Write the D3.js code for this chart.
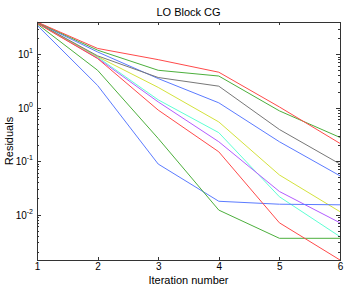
<!DOCTYPE html>
<html>
<head>
<meta charset="utf-8">
<script src="https://cdn.jsdelivr.net/npm/d3@7"></script>
<style>
  body { margin: 0; background: #fff; }
  text { font-family: "Liberation Sans", Arial, sans-serif; fill: #000; }
  .axis path, .axis line { stroke: #333; shape-rendering: crispEdges; }
</style>
</head>
<body>
<div id="holder"></div>
<script>
const w = 346;
const h = 287;
const margin = { top: 22, right: 6, bottom: 27, left: 37 };

// DATA
const iterations = [1, 2, 3, 4, 5, 6];
const blue1    = [39,   11.0, 3.5,   1.23,   0.23,   0.053];
const green1   = [39.5, 11.9, 5.0,   3.9,    0.87,   0.277];
const red1     = [40,   12.8, 7.9,   4.6,    1.03,   0.214];
const cyan     = [38.5, 8.8,  1.40,  0.34,   0.0215, 0.00385];
const magenta  = [38.5, 8.4,  1.28,  0.23,   0.027,  0.0070];
const yellow   = [38.5, 9.0,  2.39,  0.54,   0.055,  0.0113];
const gray     = [39,   9.3,  3.66,  2.52,   0.39,   0.088];
const blue2    = [35,   2.6,  0.088, 0.0177, 0.0156, 0.0152];
const green2   = [37,   5.0,  0.265, 0.0121, 0.00359, 0.00359];
const red2     = [38,   8.3,  0.90,  0.149,  0.0070, 0.00141];

const seriesList = [blue1, green1, red1, cyan, magenta, yellow, gray, blue2, green2, red2];
const colors = ["#5b7bff", "#4caf3c", "#ff4a4a", "#5effd4", "#b35cff", "#d4e23c", "#777777",
                "#5b7bff", "#4caf3c", "#ff4a4a"];

const yMajor = [0.01, 0.1, 1, 10];

// CREATE SVG
const svg = d3.select("#holder")
    .append("svg")
    .attr("width", w)
    .attr("height", h);

const allVals = seriesList.flat();
const x = d3.scaleLinear()
    .domain([1, 6])
    .range([margin.left, w - margin.right]);
const y = d3.scaleLog()
    .domain(d3.extent(allVals))
    .range([h - margin.bottom, margin.top]);

// minor ticks for log axis
const yMinor = [];
[0.001, 0.01, 0.1, 1, 10].forEach(function (d) {
    for (let k = 2; k <= 9; k++) {
        const v = d * k;
        if (v >= y.domain()[0] && v <= y.domain()[1]) yMinor.push(v);
    }
});

// LINES
const line = d3.line()
    .x(function (d, i) { return x(iterations[i]); })
    .y(function (d) { return y(d); });

svg.append("g")
    .selectAll("path")
    .data(seriesList)
    .enter()
    .append("path")
    .attr("d", line)
    .attr("fill", "none")
    .attr("stroke", function (d, i) { return colors[i]; })
    .attr("stroke-width", 1);

// AXES (ticks inside, MATLAB style)
const bottom = h - margin.bottom;
const right = w - margin.right;

svg.append("g").attr("class", "axis")
    .attr("transform", "translate(0," + bottom + ")")
    .call(d3.axisBottom(x).tickValues(iterations).tickSize(-3).tickPadding(3)
        .tickFormat(d3.format("d")))
    .call(g => g.selectAll("text").attr("font-size", 10).style("font-family", "Liberation Sans, Arial, sans-serif"));

svg.append("g").attr("class", "axis")
    .attr("transform", "translate(0," + margin.top + ")")
    .call(d3.axisTop(x).tickValues(iterations).tickSize(-3).tickFormat(""));

svg.append("g").attr("class", "axis")
    .attr("transform", "translate(" + margin.left + ",0)")
    .call(d3.axisLeft(y).tickValues(yMajor).tickSize(-4).tickFormat(""));
svg.append("g").attr("class", "axis")
    .attr("transform", "translate(" + margin.left + ",0)")
    .call(d3.axisLeft(y).tickValues(yMinor).tickSize(-2).tickFormat(""))
    .call(g => g.select(".domain").remove());

svg.append("g").attr("class", "axis")
    .attr("transform", "translate(" + right + ",0)")
    .call(d3.axisRight(y).tickValues(yMajor).tickSize(-4).tickFormat(""));
svg.append("g").attr("class", "axis")
    .attr("transform", "translate(" + right + ",0)")
    .call(d3.axisRight(y).tickValues(yMinor).tickSize(-2).tickFormat(""))
    .call(g => g.select(".domain").remove());

// Y tick labels 10^n
const ylab = svg.append("g")
    .selectAll("text")
    .data(yMajor)
    .enter()
    .append("text")
    .attr("x", margin.left - 4)
    .attr("y", function (d) { return y(d) + 4; })
    .attr("text-anchor", "end")
    .attr("font-size", 10);
ylab.append("tspan").text("10");
ylab.append("tspan")
    .attr("dy", -5)
    .attr("font-size", 7)
    .text(function (d) { return Math.round(Math.log10(d)); });

// TITLE & LABELS
svg.append("text")
    .attr("x", (margin.left + right) / 2)
    .attr("y", 16)
    .attr("text-anchor", "middle")
    .attr("font-size", 11)
    .text("LO Block CG");

svg.append("text")
    .attr("x", (margin.left + right) / 2)
    .attr("y", 284)
    .attr("text-anchor", "middle")
    .attr("font-size", 11)
    .text("Iteration number");

svg.append("text")
    .attr("transform", "translate(13," + ((margin.top + bottom) / 2) + ") rotate(-90)")
    .attr("text-anchor", "middle")
    .attr("font-size", 11)
    .text("Residuals");
</script>
</body>
</html>
